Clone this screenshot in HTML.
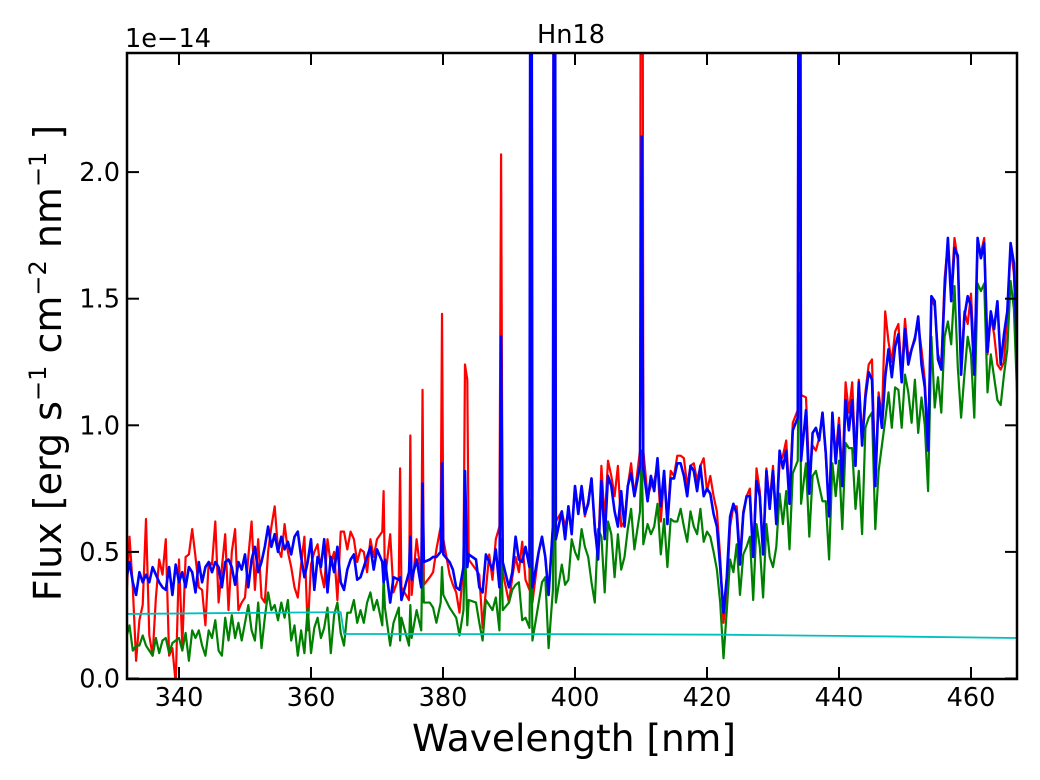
<!DOCTYPE html>
<html>
<head>
<meta charset="utf-8">
<title>Hn18 spectrum</title>
<style>
html,body{margin:0;padding:0;background:#fff;width:1040px;height:780px;overflow:hidden}
svg{display:block}
text{font-family:"DejaVu Sans","Liberation Sans",sans-serif;fill:#000}
</style>
</head>
<body>
<svg id="chart" width="1040" height="780" viewBox="0 0 1040 780" xmlns="http://www.w3.org/2000/svg">
  <rect x="0" y="0" width="1040" height="780" fill="#fff"/>
  <defs><clipPath id="plot-clip"><rect x="127" y="53" width="890" height="626"/></clipPath></defs>
  <g id="series-layer" clip-path="url(#plot-clip)"></g>
  <g id="axis-layer"></g>
  <text x="571" y="43" font-size="25.6" text-anchor="middle">Hn18</text>
  <text x="125" y="47" font-size="25.6">1e−14</text>
  <text x="574" y="751" font-size="37.5" text-anchor="middle">Wavelength [nm]</text>
  <text transform="translate(61,363) rotate(-90)" font-size="38" text-anchor="middle" xml:space="preserve">Flux [erg s<tspan font-size="24" dy="-15">−1</tspan><tspan dy="15"> cm</tspan><tspan font-size="24" dy="-15">−2</tspan><tspan dy="15"> nm</tspan><tspan font-size="24" dy="-15">−1</tspan><tspan dy="15"> ]</tspan></text>
</svg>
<script>
const wavelengths = [
332,332.5,333,333.5,334,334.5,335,335.5,336,336.5,337,337.5,338,338.5,339,339.5,340,340.5,341,341.5,
342,342.5,343,343.5,344,344.5,345,345.5,346,346.5,347,347.5,348,348.5,349,349.5,350,350.5,351,351.5,
352,352.5,353,353.5,354,354.5,355,355.5,356,356.5,357,357.5,358,358.5,359,359.5,360,360.5,361,361.5,
362,362.5,363,363.5,364,364.5,365,365.5,366,366.5,367,367.5,368,368.5,369,369.5,370,370.8,371,371.2,
372,372.5,373.3,373.5,373.7,374.85,375.05,375.25,376,376.7,376.9,377.1,378,378.5,379,379.65,379.85,380.05,381,381.5,
382,382.5,383.1,383.33,383.68,383.9,385,385.5,386,386.5,387,387.5,388,388.55,388.8,389.05,390,390.5,391,391.5,
392,392.5,393.1,393.33,393.55,394.5,395,395.5,396,396.65,396.87,397.1,398,398.5,399,399.5,400,400.5,401,401.5,
402,402.5,403,403.5,404,404.5,405,405.5,406,406.5,407,407.5,408,408.5,409,409.85,410.1,410.35,411,411.5,
412,412.5,413,413.5,414,414.5,415,415.5,416,416.5,417,417.5,418,418.5,419,419.5,420,420.5,421,421.5,
422,422.5,423,423.5,424,424.5,425,425.5,426,426.5,427,427.5,428,428.5,429,429.5,430,430.5,431,431.5,
432,432.5,433,433.75,434,434.25,435,435.5,436,436.5,437,437.5,438,438.5,439,439.5,440,440.5,441,441.5,
442,442.5,443,443.5,444,444.5,445,445.5,446,446.5,447,447.5,448,448.5,449,449.5,450,450.5,451,451.5,
452,452.5,453,453.5,454,454.5,455,455.5,456,456.5,457,457.5,458,458.5,459,459.5,460,460.5,461,461.5,
462,462.5,463,463.5,464,464.5,465,465.5,466,466.5,467
];
// flux values in units of 1e-16 erg/s/cm2/nm
const redFlux = [
30,56,36,7,23,29,63,17,9,32,47,41,55,9,12,-2,47,13,48,49,
59,48,36,35,21,46,45,62,30,44,57,27,50,59,27,30,32,48,62,35,
55,32,30,50,60,68,51,48,61,50,44,36,32,45,56,19,45,50,53,42,
36,55,45,50,31,58,58,51,58,55,46,51,50,42,55,48,55,58,74,39,
57,34,40,83,36,31,96,33,55,40,114,37,40,42,51,60,144,55,41,37,
34,26,45,124,118,47,43,41,20,35,49,39,55,60,207,42,30,40,48,42,
54,39,35,520,30,50,55,48,33,60,520,62,66,60,66,58,76,66,74,64,
70,79,58,50,84,62,86,80,72,84,60,62,76,85,72,90,600,90,72,76,
78,84,62,80,62,82,80,88,88,87,76,84,85,78,84,87,74,80,72,66,
48,22,35,60,68,68,48,66,72,75,48,83,74,50,83,70,84,62,85,88,
94,72,101,106,600,112,111,80,92,90,95,105,88,66,104,88,103,80,117,105,
117,86,118,95,113,124,126,78,113,103,145,133,125,137,140,120,142,127,130,135,
140,130,118,92,150,147,128,124,158,172,152,174,165,122,145,140,152,125,172,168,
174,128,143,136,124,122,125,145,170,160,127
];
const greenFlux = [
16,21,11,13,13,17,13,11,9,16,10,15,16,10,14,15,16,11,18,7,
19,16,19,13,9,19,16,23,11,9,24,15,25,16,22,15,22,29,19,15,
30,12,24,34,27,29,23,30,24,31,15,21,9,19,10,28,10,20,24,16,
20,28,10,25,30,18,13,26,26,31,22,27,22,30,34,27,31,21,40,28,
13,22,28,15,24,13,29,16,27,19,51,30,30,28,22,30,44,33,28,26,
24,17,27,55,21,31,30,22,15,31,29,27,32,19,55,27,30,35,37,38,
23,24,20,70,15,30,38,40,12,35,110,30,45,37,39,55,50,47,59,52,
48,38,30,59,56,34,62,57,40,57,43,48,59,67,51,66,90,53,61,57,
60,69,49,63,44,63,62,62,67,60,54,66,60,57,67,54,58,56,50,43,
30,8,27,47,42,53,33,49,52,56,31,61,52,32,61,48,44,52,73,61,
74,51,81,86,160,69,85,56,80,82,76,70,70,47,85,72,86,59,93,91,
91,67,82,57,99,103,105,59,82,92,102,113,99,115,114,99,120,113,101,118,
97,111,100,74,135,107,119,105,135,141,132,155,123,103,120,135,128,103,156,153,
156,113,128,119,110,108,120,130,157,146,111
];
const blueFlux = [
39,46,38,33,42,38,41,38,44,41,38,36,35,44,33,45,38,42,36,44,
42,34,46,38,44,46,42,46,44,36,46,47,44,37,46,43,49,36,47,52,
42,46,52,60,52,57,50,56,51,54,49,56,58,48,40,46,55,35,48,44,
55,34,48,42,52,38,35,43,47,49,39,40,44,48,52,43,51,46,38,47,
30,40,39,40,31,42,56,39,47,36,77,46,47,48,48,50,85,49,46,43,
36,35,44,82,44,49,47,36,34,49,46,43,51,36,135,46,36,42,56,47,
46,52,44,500,36,50,56,48,33,60,500,55,66,55,68,57,76,65,76,65,
69,79,60,47,78,55,80,76,66,60,74,60,76,81,72,84,214,83,70,80,
74,87,68,82,61,79,79,85,85,80,72,84,82,74,84,72,75,73,65,60,
44,26,40,64,69,65,45,65,72,72,48,78,72,49,82,67,82,61,90,83,
90,69,98,103,500,86,106,73,97,99,94,105,89,64,105,85,100,76,110,98,
110,84,117,92,111,121,118,76,111,99,119,130,119,131,136,117,138,124,130,134,
143,124,115,90,151,149,126,122,153,174,149,170,167,120,143,151,147,120,174,166,
172,129,145,138,149,124,136,145,172,164,127
];
const continuumWavelengths = [332,345,364.5,365,400,422,445,467];
const continuumFlux = [25.5,25.8,26.2,17.6,17.5,17.3,16.7,16];
const xTickValues = [340,360,380,400,420,440,460];
const yTickValues = [0,0.5,1,1.5,2];
const yTickLabels = ["0.0","0.5","1.0","1.5","2.0"];

const SVGNS = "http://www.w3.org/2000/svg";
function xScale(w){ return 179 + (w - 340) * 6.6; }
function yScale(v){ return 678.5 - v * 253.2; }
function yScaleFlux(f){ return yScale(f / 100); }

const seriesLayer = document.getElementById("series-layer");
const axisLayer = document.getElementById("axis-layer");

function drawSeries(xs, ys, color, width){
  const line = document.createElementNS(SVGNS, "polyline");
  line.setAttribute("points", ys.map(function(v, i){
    return xScale(xs[i]).toFixed(2) + "," + yScaleFlux(v).toFixed(2);
  }).join(" "));
  line.setAttribute("fill", "none");
  line.setAttribute("stroke", color);
  line.setAttribute("stroke-width", width);
  line.setAttribute("stroke-linejoin", "round");
  seriesLayer.appendChild(line);
  return line;
}
const redLine = drawSeries(wavelengths, redFlux, "#ff0000", 2.2);


const greenLine = drawSeries(wavelengths, greenFlux, "#008000", 2.2);


const blueLine = drawSeries(wavelengths, blueFlux, "#0000ff", 2.6);


const continuumLine = drawSeries(continuumWavelengths, continuumFlux, "#00bfbf", 1.8);



function tick(x1, y1, x2, y2){
  const t = document.createElementNS(SVGNS, "line");
  t.setAttribute("x1", x1); t.setAttribute("y1", y1);
  t.setAttribute("x2", x2); t.setAttribute("y2", y2);
  t.setAttribute("stroke", "#000");
  t.setAttribute("stroke-width", 2);
  axisLayer.appendChild(t);
  return t;
}
function label(x, y, str, anchor){
  const t = document.createElementNS(SVGNS, "text");
  t.setAttribute("x", x); t.setAttribute("y", y);
  t.setAttribute("font-size", 25.6);
  t.setAttribute("text-anchor", anchor);
  t.textContent = str;
  axisLayer.appendChild(t);
  return t;
}
xTickValues.forEach(function(v){
  const px = xScale(v);
  const bottomTick = tick(px, 679, px, 667);
  
  
  const topTick = tick(px, 53, px, 65);
  
  
  const xLabel = label(px, 706, String(v), "middle");
  
  
});
yTickValues.forEach(function(v, i){
  const py = yScale(v);
  const leftTick = tick(127, py, 139, py);
  
  
  const rightTick = tick(1017, py, 1005, py);
  
  
  const yLabel = label(120, py + 9, yTickLabels[i], "end");
  
  
});
const frame = document.createElementNS(SVGNS, "rect");
frame.setAttribute("x", 127);
frame.setAttribute("y", 53);
frame.setAttribute("width", 890);
frame.setAttribute("height", 626);
frame.setAttribute("fill", "none");
frame.setAttribute("stroke", "#000");
frame.setAttribute("stroke-width", 2.5);


axisLayer.appendChild(frame);
</script>
</body>
</html>
